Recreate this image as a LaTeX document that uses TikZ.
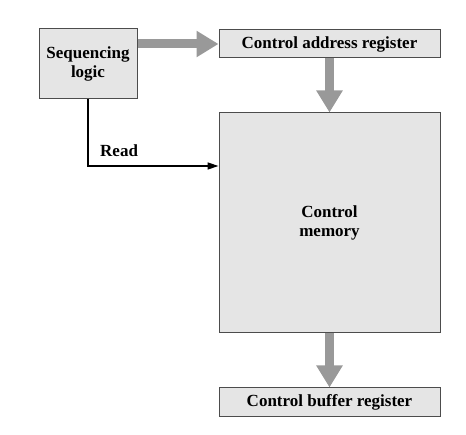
\documentclass[tikz,border=0pt]{standalone}
\usepackage{fontspec}
\setmainfont{Liberation Serif}
\usetikzlibrary{arrows.meta}

\begin{document}
\begin{tikzpicture}[x=1pt, y=-1pt]
  \tikzset{
    blk/.style={draw=black!70, fill=black!10, line width=1pt, inner sep=0pt,
      align=center, font=\fontsize{17}{19}\selectfont\bfseries},
    fat/.style={draw=black!40, line width=9pt,
      -{Triangle[width=25pt, length=22pt, fill=black!40]}},
    rd/.style={draw=black, line width=1.5pt, -{Triangle[width=7pt, length=11pt]}}
  }
  \useasboundingbox (0,0) rectangle (466,435);

  % blocks (pixel positions of the original)
  \node[blk, minimum width=98pt, minimum height=70pt] (seq) at (88,64) {Sequencing\\logic};
  \node[blk, minimum width=221pt, minimum height=28pt] (car) at (329.5,44) {Control address register};
  \node[blk, minimum width=221pt, minimum height=220pt] (cm) at (329.5,223) {Control\\memory};
  \node[blk, minimum width=221pt, minimum height=29pt] (cbr) at (329.5,402.5) {Control buffer register};

  % corner of the read line
  \coordinate (bend) at (88,166);

  % wide grey arrows
  \draw[fat] (seq.east |- car.west) -- (car.west);
  \draw[fat] (car.south) -- (cm.north);
  \draw[fat] (cm.south) -- (cbr.north);

  % read signal
  \draw[rd] (seq.south) -- (bend) -- (bend -| cm.west);
  \node[font=\fontsize{17}{19}\selectfont\bfseries, anchor=base west, inner sep=0pt]
    (read) at ([xshift=12pt, yshift=9pt]bend) {Read};
\end{tikzpicture}
\end{document}
